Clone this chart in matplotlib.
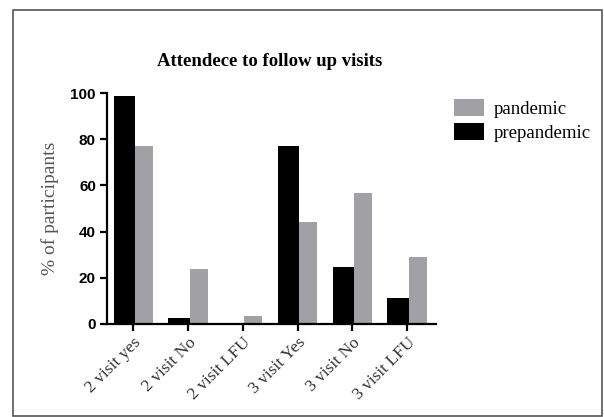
import matplotlib
matplotlib.use("Agg")
import matplotlib.pyplot as plt
import numpy as np
from matplotlib.patches import Rectangle

categories = ["2 visit yes", "2 visit No", "2 visit LFU", "3 visit Yes", "3 visit No", "3 visit LFU"]
prepandemic = [99, 2.5, 0, 77, 24.7, 11]
pandemic = [77, 23.8, 3.3, 44.3, 56.6, 29]
yticks = [0, 20, 40, 60, 80, 100]

fig = plt.figure(figsize=(6.04, 4.17), dpi=100)
ax = fig.add_axes([107/604, 1-323.5/417, (436-107)/604, (323.5-93.5)/417])

x = np.arange(len(categories))
ax.bar(x - 0.36, prepandemic, width=0.39, align='edge', color='black', label='prepandemic', zorder=3)
ax.bar(x + 0.03, pandemic, width=0.33, align='edge', color='#a1a1a5', label='pandemic', zorder=2)

ax.set_xlim(-0.48, 5.53)
ax.set_ylim(0, 100)
ax.set_yticks(yticks)
ax.set_yticklabels([str(v) for v in yticks], family='Liberation Sans', fontweight='bold', fontsize=11)
ax.set_xticks(x)
ax.set_xticklabels(categories, rotation=45, ha='right', rotation_mode='anchor',
                   family='Liberation Serif', fontsize=12.5, color='#333333')
for s in ['top', 'right']:
    ax.spines[s].set_visible(False)
for s in ['left', 'bottom']:
    ax.spines[s].set_linewidth(1.6)
ax.tick_params(axis='both', direction='out', length=5, width=1.6, pad=3)
ax.set_ylabel('% of participants', family='Liberation Serif', fontsize=14, color='#555555', labelpad=8)

fig.text(270/604, 1-62/417, 'Attendece to follow up visits', family='Liberation Serif',
         fontweight='bold', fontsize=13.5, ha='center', va='center')

handles, labels = ax.get_legend_handles_labels()
leg = fig.legend([handles[1], handles[0]], [labels[1], labels[0]], loc='upper left',
                 bbox_to_anchor=(454/604, 1-99/417), frameon=False,
                 prop={'family': 'Liberation Serif', 'size': 13.5},
                 handlelength=1.6, handleheight=1.0, handletextpad=0.5, labelspacing=0.3,
                 borderaxespad=0, borderpad=0)

fig.patches.append(Rectangle((13/604, 0.002), (602-13)/604, 1-10/417-0.002, transform=fig.transFigure,
                             fill=False, edgecolor='#555555', linewidth=1.2))

fig.savefig('out.png', dpi=100)
